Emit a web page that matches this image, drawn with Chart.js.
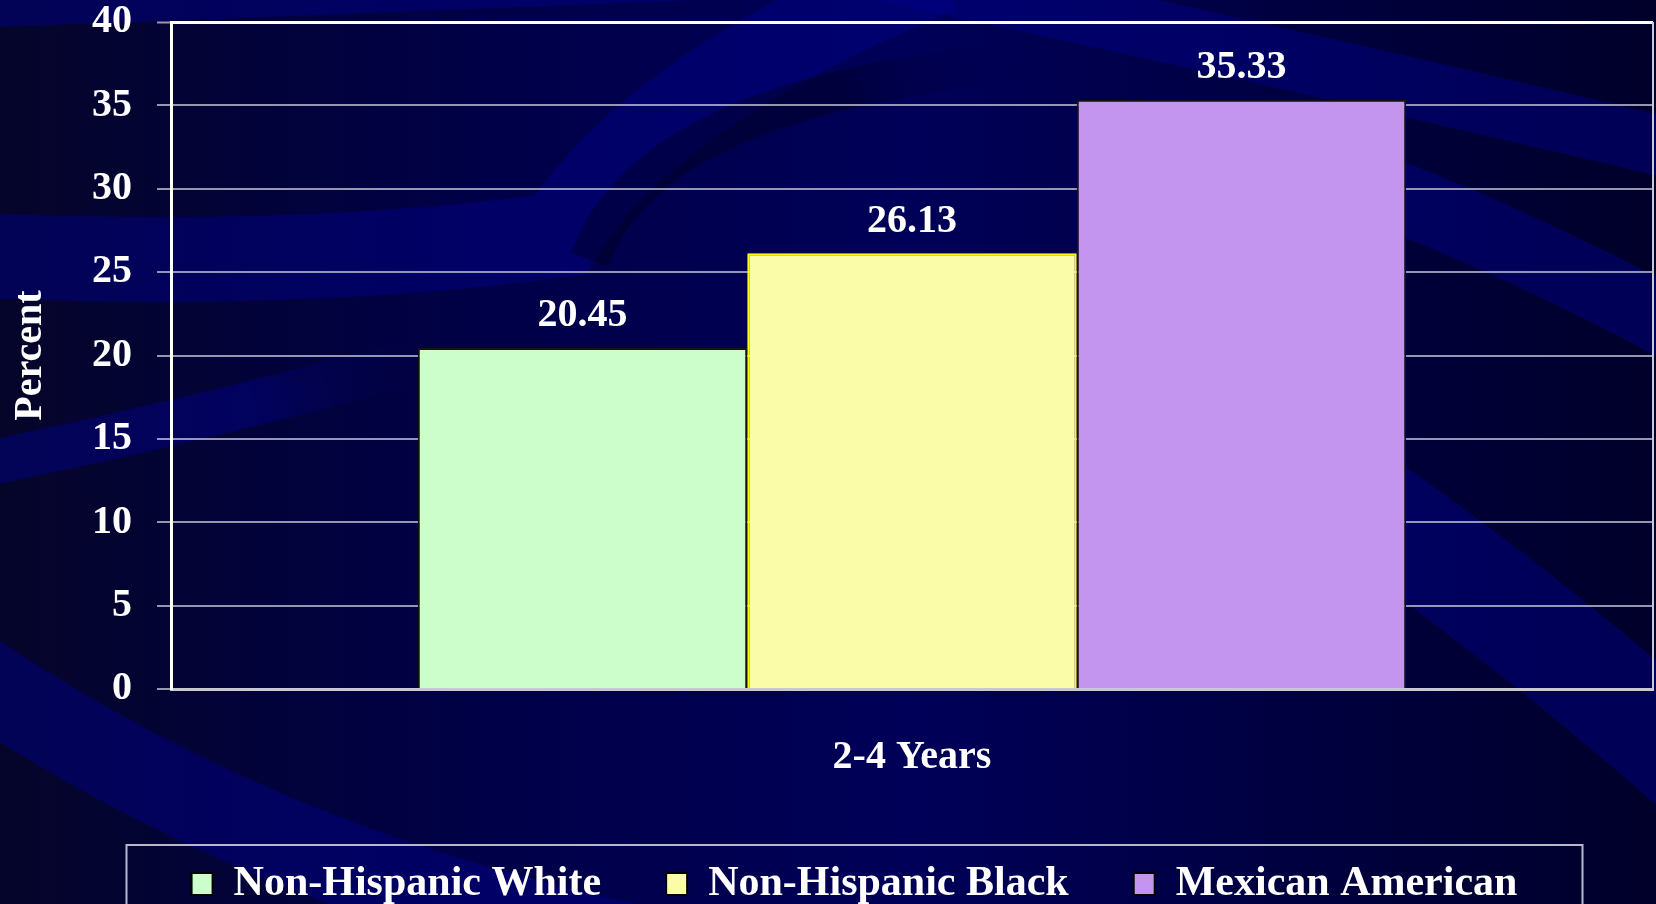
<!DOCTYPE html>
<html>
<head>
<meta charset="utf-8">
<title>Percent 2-4 Years</title>
<script src="https://cdn.jsdelivr.net/npm/chart.js@4.4.0/dist/chart.umd.min.js"></script>
<style>
    html, body { margin: 0; padding: 0; overflow: hidden; background: #000033; }
    #caixa { width: 1656px; height: 915px; position: relative; }
</style>
</head>
<body>
<div id="caixa"><canvas id="grafico_idade"></canvas></div>
<script>
    // dados do grafico
    const categorias = ['2-4 Years'];
    const grupos = ['Non-Hispanic White', 'Non-Hispanic Black', 'Mexican American'];
    const valores_white = [20.45];
    const valores_black = [26.13];
    const valores_mexican = [35.33];
    const eixo_y = { min: 0, max: 40, passo: 5 };

    const fonte = "'Liberation Serif', 'Times New Roman', serif";

    // faixa com as pontas sumindo aos poucos
    function faixaGradiente(ctx, cor, x0, y0, x1, y1) {
        const g = ctx.createLinearGradient(x0, y0, x1, y1);
        g.addColorStop(0, cor);
        g.addColorStop(0.6, cor);
        g.addColorStop(1, 'rgba(0, 0, 90, 0)');
        return g;
    }

    // fundo azul com as faixas curvas
    function desenharFundo(ctx, w, h) {
        const g = ctx.createLinearGradient(0, 0, w, 0);
        g.addColorStop(0, '#05052a');
        g.addColorStop(0.3, '#000048');
        g.addColorStop(0.55, '#000058');
        g.addColorStop(0.8, '#00003e');
        g.addColorStop(1, '#00002a');
        ctx.fillStyle = g;
        ctx.fillRect(0, 0, w, h);

        ctx.lineCap = 'butt';
        const claro = 'rgba(0, 0, 140, 0.45)';
        const escuro = 'rgba(0, 0, 25, 0.4)';

        ctx.fillStyle = claro;
        ctx.beginPath();
        ctx.moveTo(0, 0);
        ctx.lineTo(0, 27);
        ctx.quadraticCurveTo(250, 18, 700, 0);
        ctx.closePath();
        ctx.fill();

        const faixas = [
            [claro, 85, [[-30, 255], [300, 270, 560, 235], [650, 90, 940, -30]]],
            [claro, 60, [[880, -30], [1300, 60, 1700, 155]]],
            [claro, 70, [[1300, 160], [1500, 230, 1700, 340]]],
            [claro, 110, [[1250, 430], [1460, 560, 1700, 770]]],
            [claro, 85, [[-40, 665], [300, 900, 760, 970]]]
        ];
        faixas.forEach(f => {
            ctx.strokeStyle = f[0];
            ctx.lineWidth = f[1];
            ctx.beginPath();
            ctx.moveTo(f[2][0][0], f[2][0][1]);
            for (let i = 1; i < f[2].length; i++) {
                const p = f[2][i];
                ctx.quadraticCurveTo(p[0], p[1], p[2], p[3]);
            }
            ctx.stroke();
        });

        // faixa pequena da esquerda e a curva escura, com as pontas esmaecidas
        ctx.strokeStyle = faixaGradiente(ctx, claro, 0, 460, 420, 360);
        ctx.lineWidth = 45;
        ctx.beginPath();
        ctx.moveTo(-20, 465);
        ctx.quadraticCurveTo(200, 420, 420, 360);
        ctx.stroke();

        ctx.strokeStyle = faixaGradiente(ctx, escuro, 590, 260, 1050, 60);
        ctx.lineWidth = 40;
        ctx.beginPath();
        ctx.moveTo(590, 260);
        ctx.quadraticCurveTo(650, 90, 1050, 60);
        ctx.stroke();
    }

    const pluginFundo = {
        id: 'fundo',
        beforeDraw(chart) {
            const ctx = chart.ctx;
            ctx.save();
            desenharFundo(ctx, chart.width, chart.height);
            ctx.restore();
        },
        afterLayout(chart) {
            // legenda um pouco deslocada para a direita
            chart.legend.left += 28;
            chart.legend.right += 28;
        },
        beforeDatasetsDraw(chart) {
            const {ctx, chartArea} = chart;
            ctx.save();
            ctx.strokeStyle = '#c8c8d8';
            ctx.lineWidth = 2;
            ctx.beginPath();
            ctx.moveTo(chartArea.right, chartArea.top);
            ctx.lineTo(chartArea.right, chartArea.bottom);
            ctx.stroke();
            ctx.restore();
        },
        afterDatasetsDraw(chart) {
            const ctx = chart.ctx;
            ctx.save();
            ctx.font = 'bold 40px ' + fonte;
            ctx.fillStyle = '#ffffff';
            ctx.textAlign = 'center';
            ctx.textBaseline = 'middle';
            chart.data.datasets.forEach((ds, i) => {
                chart.getDatasetMeta(i).data.forEach((barra, j) => {
                    ctx.fillText(ds.data[j].toFixed(2), barra.x, barra.y - 32);
                });
            });
            ctx.restore();
        },
        afterDraw(chart) {
            // moldura da legenda
            const leg = chart.legend;
            const caixas = leg.legendHitBoxes;
            if (!caixas || !caixas.length) return;
            const meio = (caixas[0].left + caixas[caixas.length - 1].left + caixas[caixas.length - 1].width) / 2;
            const ctx = chart.ctx;
            ctx.save();
            ctx.strokeStyle = '#b8b8c8';
            ctx.lineWidth = 2;
            ctx.strokeRect(meio - 728, leg.top + 47, 1456, 200);
            ctx.restore();
        }
    };

    const ctx_idade = document.getElementById('grafico_idade');

    new Chart(ctx_idade, {
        type: 'bar',
        data: {
            labels: categorias,
            datasets: [{
                label: grupos[0],
                data: valores_white,
                backgroundColor: '#ccfecc',
                borderColor: '#141414',
                borderWidth: 2
            }, {
                label: grupos[1],
                data: valores_black,
                backgroundColor: '#fafca8',
                borderColor: '#ffff00',
                borderWidth: 2
            }, {
                label: grupos[2],
                data: valores_mexican,
                backgroundColor: '#c495ef',
                borderColor: '#141414',
                borderWidth: 2
            }]
        },
        options: {
            responsive: true,
            maintainAspectRatio: false,
            animation: false,
            devicePixelRatio: 1,
            layout: { padding: { left: 0, right: 3, top: 0, bottom: 0 } },
            datasets: {
                bar: { categoryPercentage: 0.667, barPercentage: 1 }
            },
            scales: {
                x: {
                    grid: { display: false, drawTicks: false },
                    border: { display: true, color: '#c8c8d0', width: 3 },
                    ticks: {
                        color: '#ffffff',
                        padding: 47,
                        font: { family: fonte, size: 40, weight: 'bold', lineHeight: 1.1 }
                    },
                    afterFit: function (scale) { scale.height = 109; }
                },
                y: {
                    min: eixo_y.min,
                    max: eixo_y.max,
                    ticks: {
                        stepSize: eixo_y.passo,
                        color: '#ffffff',
                        padding: 25,
                        font: { family: fonte, size: 40, weight: 'bold', lineHeight: 1.1 }
                    },
                    grid: {
                        color: (c) => c.tick && c.tick.value === eixo_y.max ? '#ffffff' : 'rgba(200, 200, 220, 0.75)',
                        lineWidth: (c) => c.tick && c.tick.value === eixo_y.max ? 3 : 2,
                        tickColor: 'rgba(200, 200, 220, 0.75)',
                        tickWidth: 2,
                        tickLength: 14
                    },
                    border: { display: true, color: '#ffffff', width: 3 },
                    title: {
                        display: true,
                        text: 'Percent',
                        color: '#ffffff',
                        padding: { top: 9, bottom: 0 },
                        font: { family: fonte, size: 40, weight: 'bold', lineHeight: 1.1 }
                    },
                    afterFit: function (scale) {
                        scale.width = 171;
                        scale.paddingTop = 22;
                    }
                }
            },
            plugins: {
                legend: {
                    position: 'bottom',
                    labels: {
                        color: '#ffffff',
                        boxWidth: 21,
                        boxHeight: 22,
                        padding: 65,
                        font: { family: fonte, size: 42, weight: 'bold' },
                        generateLabels: function (chart) {
                            const itens = Chart.defaults.plugins.legend.labels.generateLabels(chart);
                            itens.forEach(it => { it.strokeStyle = '#000000'; it.lineWidth = 2; });
                            return itens;
                        }
                    }
                },
                tooltip: { enabled: false }
            }
        },
        plugins: [pluginFundo]
    });
</script>
</body>
</html>
